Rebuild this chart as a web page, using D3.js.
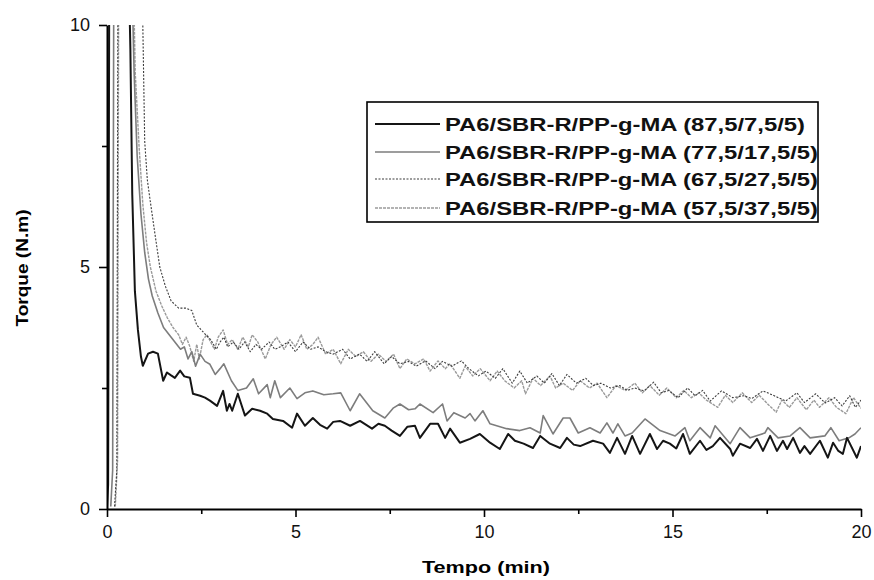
<!DOCTYPE html>
<html><head><meta charset="utf-8">
<script src="https://cdn.jsdelivr.net/npm/d3@7"></script>
<style>body{margin:0;background:#fff}svg{display:block}</style>
</head><body>
<svg id="c" width="874" height="580"></svg>
<script>
const xTicks=[0,5,10,15,20];
const xMinorTicks=[2.5,7.5,12.5,17.5];
const yTicks=[0,5,10];
const yMinorTicks=[2.5,7.5];
const xTitle="Tempo (min)";
const yTitle="Torque (N.m)";
const seriesNames=[
 "PA6/SBR-R/PP-g-MA (87,5/7,5/5)",
 "PA6/SBR-R/PP-g-MA (77,5/17,5/5)",
 "PA6/SBR-R/PP-g-MA (67,5/27,5/5)",
 "PA6/SBR-R/PP-g-MA (57,5/37,5/5)"
];
const s875=[[0,0.05],[0.03,0.5],[0.06,11],[0.58,11],[0.62,9.5],[0.67,6.5],[0.74,4.5],[0.82,3.7],[0.9,3.15],[0.95,2.96],[1.09,3.21],[1.22,3.25],[1.35,3.21],[1.49,2.65],[1.59,2.82],[1.7,2.76],[1.8,2.71],[1.94,2.86],[2.05,2.74],[2.2,2.71],[2.28,2.38],[2.47,2.34],[2.6,2.3],[2.73,2.24],[2.92,2.13],[3.08,2.44],[3.18,2.03],[3.25,2.17],[3.32,2.03],[3.47,2.38],[3.66,1.93],[3.85,2.07],[4.06,2.03],[4.25,1.97],[4.4,1.86],[4.67,1.82],[4.91,1.68],[5.04,1.97],[5.25,1.72],[5.46,1.88],[5.65,1.74],[5.84,1.66],[6.0,1.8],[6.18,1.82],[6.45,1.72],[6.71,1.82],[7.03,1.66],[7.2,1.76],[7.37,1.72],[7.55,1.62],[7.77,1.51],[7.97,1.7],[8.17,1.72],[8.3,1.47],[8.57,1.76],[8.78,1.76],[8.97,1.47],[9.1,1.66],[9.36,1.37],[9.63,1.45],[9.89,1.55],[10.16,1.37],[10.42,1.24],[10.64,1.55],[10.82,1.41],[11.05,1.35],[11.3,1.26],[11.49,1.51],[11.75,1.35],[12.02,1.26],[12.2,1.47],[12.38,1.33],[12.55,1.3],[12.89,1.41],[13.16,1.35],[13.34,1.16],[13.53,1.47],[13.74,1.14],[13.93,1.51],[14.14,1.14],[14.4,1.55],[14.59,1.24],[14.75,1.41],[14.93,1.35],[15.1,1.25],[15.28,1.55],[15.46,1.14],[15.73,1.41],[15.9,1.22],[16.07,1.3],[16.26,1.47],[16.53,1.24],[16.6,1.1],[16.79,1.35],[17.06,1.26],[17.24,1.45],[17.4,1.2],[17.59,1.51],[17.77,1.2],[17.93,1.41],[18.04,1.24],[18.2,1.47],[18.38,1.16],[18.5,1.3],[18.65,1.14],[18.91,1.41],[19.12,1.06],[19.26,1.37],[19.4,1.2],[19.52,1.14],[19.63,1.47],[19.89,1.06],[20,1.3]];
const s775=[[0.1,0.05],[0.15,0.8],[0.18,11],[0.66,11],[0.72,9],[0.8,7.3],[0.9,6.1],[1.0,5.3],[1.1,4.75],[1.2,4.4],[1.35,4.05],[1.5,3.75],[1.65,3.6],[1.8,3.45],[1.95,3.3],[2.05,3.35],[2.15,3.1],[2.25,3.25],[2.35,2.95],[2.47,3.2],[2.6,3.05],[2.73,2.99],[2.87,2.78],[3.0,2.9],[3.1,3.0],[3.3,2.65],[3.47,2.45],[3.7,2.5],[3.88,2.69],[4.02,2.38],[4.25,2.57],[4.33,2.3],[4.45,2.65],[4.6,2.3],[4.85,2.5],[5.04,2.28],[5.25,2.4],[5.46,2.44],[5.75,2.36],[6.0,2.38],[6.2,2.4],[6.45,2.03],[6.7,2.38],[7.05,2.03],[7.37,1.88],[7.6,2.09],[7.77,2.17],[8.0,2.05],[8.17,2.07],[8.3,2.17],[8.65,1.99],[8.9,2.17],[9.02,1.82],[9.2,1.99],[9.5,1.88],[9.63,1.97],[9.76,1.82],[9.97,2.03],[10.16,1.76],[10.6,1.66],[10.95,1.62],[11.22,1.68],[11.49,1.57],[11.57,1.93],[11.83,1.55],[12.1,1.88],[12.28,1.88],[12.5,1.57],[12.81,1.68],[13.08,1.57],[13.26,1.78],[13.42,1.57],[13.55,1.76],[13.74,1.51],[13.93,1.57],[14.27,1.86],[14.67,1.62],[15.07,1.51],[15.33,1.68],[15.46,1.41],[15.73,1.68],[16.0,1.47],[16.13,1.72],[16.53,1.35],[16.79,1.68],[17.06,1.47],[17.45,1.57],[17.53,1.68],[17.8,1.47],[18.12,1.51],[18.38,1.68],[18.65,1.47],[19.04,1.51],[19.2,1.68],[19.42,1.41],[19.68,1.47],[19.84,1.55],[20,1.68]];
const s675=[[0.2,0.05],[0.26,0.8],[0.29,11],[0.9,11],[0.95,10],[1.0,7.6],[1.07,6.8],[1.14,6.4],[1.25,5.8],[1.4,5.0],[1.55,4.6],[1.7,4.3],[1.9,4.15],[2.1,4.15],[2.25,4.1],[2.38,3.8],[2.5,3.7],[2.62,3.6],[2.75,3.5],[2.9,3.3],[3.0,3.45],[3.1,3.55],[3.2,3.35],[3.35,3.45],[3.5,3.3],[3.65,3.45],[3.8,3.25],[3.95,3.4],[4.1,3.3],[4.3,3.45],[4.45,3.3],[4.6,3.35],[4.8,3.45],[5.0,3.25],[5.2,3.45],[5.4,3.3],[5.6,3.35],[5.8,3.25],[6.0,3.2],[6.25,3.3],[6.45,3.1],[6.7,3.2],[6.9,3.05],[7.1,3.25],[7.35,3.0],[7.55,3.15],[7.77,3.0],[8.0,3.05],[8.2,2.95],[8.45,3.06],[8.7,2.9],[8.9,3.05],[9.15,2.95],[9.4,3.06],[9.6,2.9],[9.85,2.75],[10.05,2.85],[10.3,2.7],[10.5,2.9],[10.75,2.6],[10.95,2.85],[11.15,2.6],[11.4,2.75],[11.6,2.6],[11.8,2.8],[12.0,2.55],[12.2,2.78],[12.45,2.6],[12.7,2.7],[12.9,2.55],[13.1,2.6],[13.35,2.5],[13.6,2.55],[13.8,2.45],[14.0,2.5],[14.25,2.44],[14.5,2.62],[14.7,2.4],[14.9,2.45],[15.15,2.3],[15.4,2.5],[15.6,2.34],[15.8,2.45],[16.0,2.23],[16.3,2.44],[16.6,2.3],[16.9,2.34],[17.1,2.28],[17.4,2.44],[17.7,2.34],[18.0,2.23],[18.3,2.4],[18.5,2.2],[18.8,2.38],[19.05,2.19],[19.3,2.3],[19.5,2.13],[19.7,2.34],[19.85,2.1],[20,2.25]];
const s575=[[0.22,0.05],[0.28,1],[0.31,11],[0.7,11],[0.75,9],[0.85,7.5],[0.95,6.3],[1.05,5.5],[1.15,5.0],[1.3,4.5],[1.45,4.2],[1.6,3.95],[1.75,3.75],[1.9,3.6],[2.0,3.4],[2.1,3.55],[2.2,3.35],[2.3,3.05],[2.38,3.4],[2.45,3.1],[2.55,3.5],[2.65,3.6],[2.75,3.45],[2.85,3.3],[2.95,3.55],[3.08,3.7],[3.2,3.4],[3.32,3.5],[3.47,3.3],[3.6,3.55],[3.75,3.35],[3.85,3.6],[4.0,3.45],[4.2,3.1],[4.35,3.4],[4.5,3.55],[4.7,3.3],[4.85,3.5],[5.0,3.35],[5.15,3.6],[5.3,3.3],[5.46,3.4],[5.6,3.55],[5.8,3.2],[6.0,3.3],[6.2,3.0],[6.4,3.3],[6.6,3.15],[6.8,3.25],[7.0,3.05],[7.2,3.2],[7.4,3.05],[7.6,3.2],[7.77,2.9],[7.95,3.1],[8.17,3.0],[8.4,3.1],[8.57,2.85],[8.78,3.06],[8.97,2.9],[9.1,3.0],[9.36,2.7],[9.5,2.95],[9.7,2.75],[9.9,2.9],[10.16,2.65],[10.35,2.85],[10.55,2.65],[10.8,2.5],[11.0,2.65],[11.1,2.38],[11.3,2.7],[11.5,2.55],[11.75,2.75],[11.9,2.5],[12.1,2.6],[12.35,2.45],[12.55,2.65],[12.8,2.5],[13.0,2.6],[13.26,2.3],[13.5,2.55],[13.75,2.45],[14.0,2.6],[14.2,2.4],[14.4,2.55],[14.65,2.35],[14.85,2.5],[15.1,2.3],[15.3,2.45],[15.5,2.3],[15.7,2.4],[15.9,2.25],[16.2,2.1],[16.4,2.35],[16.6,2.2],[16.85,2.4],[17.1,2.2],[17.3,2.35],[17.55,2.15],[17.75,2.0],[17.9,2.25],[18.1,2.1],[18.3,2.3],[18.55,2.05],[18.75,2.25],[18.9,2.1],[19.15,2.3],[19.35,2.1],[19.6,1.97],[19.8,2.3],[20,2.08]];

const seriesData=[s875,s775,s675,s575];
const styles=[
 {c:"#151515",w:2.0,d:null},
 {c:"#7d7d7d",w:1.6,d:null},
 {c:"#3c3c3c",w:1.1,d:"2,1.5"},
 {c:"#9a9a9a",w:1.4,d:"3,1"}
];

const svg=d3.select("#c");
const L=107,R=861,T=25,B=509;
const x=d3.scaleLinear().domain([0,20]).range([L,R]);
const y=d3.scaleLinear().domain([0,10]).range([B,T]);

svg.append("defs").append("clipPath").attr("id","clip")
 .append("rect").attr("x",L).attr("y",T).attr("width",R-L).attr("height",B-T);

const line=d3.line().x(d=>x(d[0])).y(d=>y(d[1]));
const g=svg.append("g").attr("clip-path","url(#clip)");
// draw order: grays first, black on top
[3,2,1,0].forEach(i=>{
 g.append("path").datum(seriesData[i]).attr("d",line)
  .attr("fill","none").attr("stroke",styles[i].c).attr("stroke-width",styles[i].w)
  .attr("stroke-linejoin","round")
  .attr("stroke-dasharray",styles[i].d);
});

// axes
const font="'Liberation Sans', Arial, sans-serif";
const xa=svg.append("g").attr("transform",`translate(0,${B})`)
 .call(d3.axisBottom(x).tickValues(xTicks).tickSize(8).tickSizeOuter(0).tickPadding(8).tickFormat(d3.format("d")));
svg.append("g").attr("transform",`translate(0,${B})`)
 .call(d3.axisBottom(x).tickValues(xMinorTicks).tickSize(5).tickSizeOuter(0).tickFormat(""))
 .select(".domain").remove();
const ya=svg.append("g").attr("transform",`translate(${L},0)`)
 .call(d3.axisLeft(y).tickValues(yTicks).tickSize(8).tickSizeOuter(0).tickPadding(9).tickFormat(d3.format("d")));
svg.append("g").attr("transform",`translate(${L},0)`)
 .call(d3.axisLeft(y).tickValues(yMinorTicks).tickSize(5).tickSizeOuter(0).tickFormat(""))
 .select(".domain").remove();
svg.selectAll(".domain").attr("stroke","#000").attr("stroke-width",2);
svg.selectAll(".tick line").attr("stroke","#000").attr("stroke-width",1.6);
svg.selectAll(".tick text").attr("font-family",font).attr("font-size",18).attr("fill","#111");

// axis titles
svg.append("text").attr("x",486).attr("y",573).attr("text-anchor","middle")
 .attr("font-family",font).attr("font-weight","bold").attr("font-size",16)
 .attr("textLength",128).attr("lengthAdjust","spacingAndGlyphs").text(xTitle);
svg.append("text").attr("transform","translate(28,268) rotate(-90)").attr("text-anchor","middle")
 .attr("font-family",font).attr("font-weight","bold").attr("font-size",16)
 .attr("textLength",117).attr("lengthAdjust","spacingAndGlyphs").text(yTitle);

// legend
const lg=svg.append("g");
lg.append("rect").attr("x",367).attr("y",102).attr("width",451).attr("height",120)
 .attr("fill","#fff").attr("stroke","#000").attr("stroke-width",1.6);
const rowY=[124,152,179,208];
const textW=[360,373,373,373];
seriesNames.forEach((n,i)=>{
 lg.append("line").attr("x1",375).attr("x2",440).attr("y1",rowY[i]).attr("y2",rowY[i])
  .attr("stroke",styles[i].c).attr("stroke-width",styles[i].w).attr("stroke-dasharray",styles[i].d);
 lg.append("text").attr("x",445).attr("y",rowY[i]+7).attr("font-family",font)
  .attr("font-weight","bold").attr("font-size",19).attr("fill","#111")
  .attr("textLength",textW[i]).attr("lengthAdjust","spacingAndGlyphs").text(n);
});
</script>
</body></html>
